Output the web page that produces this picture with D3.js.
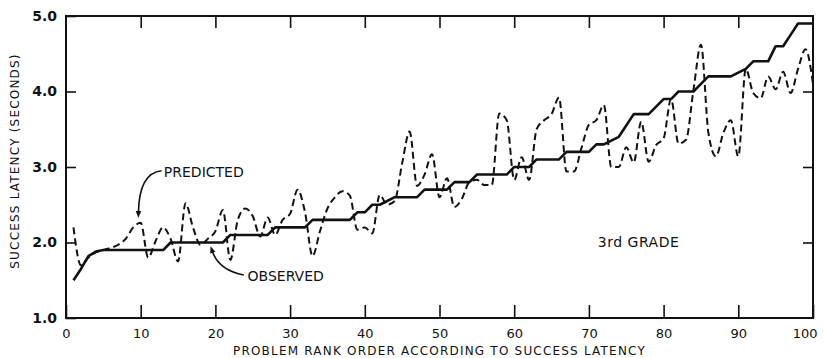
<!DOCTYPE html>
<html>
<head>
<meta charset="utf-8">
<script src="https://cdn.jsdelivr.net/npm/d3@7"></script>
<style>
  body { margin: 0; background: #fff; }
  #chart { width: 824px; height: 358px; }
  text { font-family: "DejaVu Sans", sans-serif; fill: #111; }
</style>
</head>
<body>
<div id="chart"></div>
<script>
const width = 824;
const height = 358;
const margin = { top: 16, right: 11, bottom: 40, left: 66 };

// rank 1..100
const ranks = d3.range(1, 101);

// observed latency (solid, stepped)
const observed = [
  1.5, 1.65, 1.82, 1.88, 1.9, 1.9, 1.9, 1.9, 1.9, 1.9,
  1.9, 1.9, 1.9, 2.0, 2.0, 2.0, 2.0, 2.0, 2.0, 2.0,
  2.0, 2.1, 2.1, 2.1, 2.1, 2.1, 2.1, 2.2, 2.2, 2.2,
  2.2, 2.2, 2.3, 2.3, 2.3, 2.3, 2.3, 2.3, 2.4, 2.4,
  2.5, 2.5, 2.55, 2.6, 2.6, 2.6, 2.6, 2.7, 2.7, 2.7,
  2.7, 2.8, 2.8, 2.8, 2.9, 2.9, 2.9, 2.9, 2.9, 3.0,
  3.0, 3.0, 3.1, 3.1, 3.1, 3.1, 3.2, 3.2, 3.2, 3.2,
  3.3, 3.3, 3.35, 3.4, 3.55, 3.7, 3.7, 3.7, 3.8, 3.9,
  3.9, 4.0, 4.0, 4.0, 4.1, 4.2, 4.2, 4.2, 4.2, 4.25,
  4.3, 4.4, 4.4, 4.4, 4.6, 4.6, 4.75, 4.9, 4.9, 4.9
];

// predicted latency (dashed)
const predicted = [
  2.2, 1.7, 1.8, 1.87, 1.9, 1.93, 1.97, 2.05, 2.2, 2.26,
  1.8, 2.02, 2.2, 2.05, 1.75, 2.52, 2.2, 1.97, 2.05, 2.15,
  2.43, 1.77, 2.3, 2.45, 2.35, 2.08, 2.33, 2.1, 2.3, 2.38,
  2.7, 2.4, 1.82, 2.15, 2.45, 2.6, 2.68, 2.62, 2.17, 2.2,
  2.12, 2.63, 2.5, 2.55, 3.05, 3.47, 2.75, 2.9, 3.17, 2.6,
  2.85, 2.47, 2.58, 2.8, 2.83, 2.76, 2.76, 3.71, 3.62, 2.83,
  3.13, 2.83, 3.5, 3.62, 3.7, 3.92, 2.94, 2.94, 3.25, 3.56,
  3.62, 3.82, 3.0, 3.0, 3.26, 3.06, 3.6, 3.07, 3.29, 3.38,
  3.9, 3.31, 3.36, 4.02, 4.62, 3.45, 3.14, 3.45, 3.62, 3.14,
  4.3, 3.98, 3.91, 4.2, 4.03, 4.26, 3.98, 4.3, 4.56, 4.1
];

const xTicks = d3.range(0, 101, 10);
const yTicks = [1, 2, 3, 4, 5];

const svg = d3.select("#chart")
  .append("svg")
  .attr("width", width)
  .attr("height", height);

const x = d3.scaleLinear()
  .domain([0, 100])
  .range([margin.left, width - margin.right]);

const y = d3.scaleLinear()
  .domain([1, 5])
  .range([height - margin.bottom, margin.top]);

// arrowhead
svg.append("defs").append("marker")
  .attr("id", "arrow")
  .attr("viewBox", "0 0 10 10")
  .attr("refX", 2)
  .attr("refY", 5)
  .attr("markerWidth", 7)
  .attr("markerHeight", 7)
  .attr("markerUnits", "userSpaceOnUse")
  .attr("orient", "auto")
  .append("path")
  .attr("d", "M0,1 L10,5 L0,9 Z")
  .attr("fill", "#111");

// axes (ticks point inward)
const gx = svg.append("g")
  .attr("transform", `translate(0,${y(1)})`)
  .call(d3.axisBottom(x).tickValues(xTicks).tickSizeInner(-13).tickSizeOuter(0).tickPadding(11));

const gxTop = svg.append("g")
  .attr("transform", `translate(0,${y(5)})`)
  .call(d3.axisTop(x).tickValues(xTicks.slice(1, -1)).tickSizeInner(-12).tickSizeOuter(0).tickFormat(""));

const gy = svg.append("g")
  .attr("transform", `translate(${x(0)},0)`)
  .call(d3.axisLeft(y).tickValues(yTicks).tickSizeInner(-10).tickSizeOuter(0).tickPadding(9).tickFormat(d3.format(".1f")));

const gyRight = svg.append("g")
  .attr("transform", `translate(${x(100)},0)`)
  .call(d3.axisRight(y).tickValues(yTicks.slice(1, -1)).tickSizeInner(-10).tickSizeOuter(0).tickFormat(""));

[gx, gxTop, gy, gyRight].forEach(g => {
  g.select(".domain").remove();
  g.selectAll(".tick line").attr("stroke", "#111").attr("stroke-width", 1.6);
});

gx.selectAll("text")
  .attr("font-size", 13)
  .attr("font-family", "DejaVu Sans, sans-serif")
  .attr("fill", "#111");

// last label sits against the right edge
gx.selectAll(".tick text")
  .filter(d => d === 100)
  .attr("text-anchor", "end")
  .attr("x", 4);

gy.selectAll("text")
  .attr("font-size", 14)
  .attr("font-weight", "bold")
  .attr("font-family", "DejaVu Sans, sans-serif")
  .attr("fill", "#111");

// frame
svg.append("rect")
  .attr("x", x(0))
  .attr("y", y(5))
  .attr("width", x(100) - x(0))
  .attr("height", y(1) - y(5))
  .attr("fill", "none")
  .attr("stroke", "#111")
  .attr("stroke-width", 2);

// observed line
const lineObs = d3.line()
  .x((d, i) => x(ranks[i]))
  .y(d => y(d));

svg.append("path")
  .datum(observed)
  .attr("d", lineObs)
  .attr("fill", "none")
  .attr("stroke", "#111")
  .attr("stroke-width", 2.6)
  .attr("stroke-linejoin", "round");

// predicted line
const linePred = d3.line()
  .x((d, i) => x(ranks[i]))
  .y(d => y(d))
  .curve(d3.curveMonotoneX);

svg.append("path")
  .datum(predicted)
  .attr("d", linePred)
  .attr("fill", "none")
  .attr("stroke", "#111")
  .attr("stroke-width", 2)
  .attr("stroke-dasharray", "7,4");

// annotations
const predArrow = [[12.8, 2.95], [9.8, 2.92], [9.7, 2.4]];
const obsArrow = [[23.8, 1.57], [20.5, 1.63], [19.6, 1.88]];

function curvePath(pts) {
  return `M${x(pts[0][0])},${y(pts[0][1])} Q${x(pts[1][0])},${y(pts[1][1])} ${x(pts[2][0])},${y(pts[2][1])}`;
}

[predArrow, obsArrow].forEach(pts => {
  svg.append("path")
    .attr("d", curvePath(pts))
    .attr("fill", "none")
    .attr("stroke", "#111")
    .attr("stroke-width", 1.6)
    .attr("marker-end", "url(#arrow)");
});

svg.append("text")
  .attr("x", x(13.1))
  .attr("y", y(2.87))
  .attr("font-size", 14)
  .text("PREDICTED");

svg.append("text")
  .attr("x", x(24.3))
  .attr("y", y(1.49))
  .attr("font-size", 14)
  .text("OBSERVED");

svg.append("text")
  .attr("x", x(71.2))
  .attr("y", y(1.94))
  .attr("font-size", 14)
  .attr("letter-spacing", 0.5)
  .text("3rd GRADE");

// axis titles
svg.append("text")
  .attr("x", (x(0) + x(100)) / 2)
  .attr("y", 355)
  .attr("text-anchor", "middle")
  .attr("font-size", 12)
  .attr("letter-spacing", 1.2)
  .text("PROBLEM RANK ORDER ACCORDING TO SUCCESS LATENCY");

svg.append("text")
  .attr("transform", `translate(19,${(y(1) + y(5)) / 2 - 6}) rotate(-90)`)
  .attr("text-anchor", "middle")
  .attr("font-size", 12)
  .attr("letter-spacing", 1.2)
  .text("SUCCESS LATENCY (SECONDS)");
</script>
</body>
</html>
